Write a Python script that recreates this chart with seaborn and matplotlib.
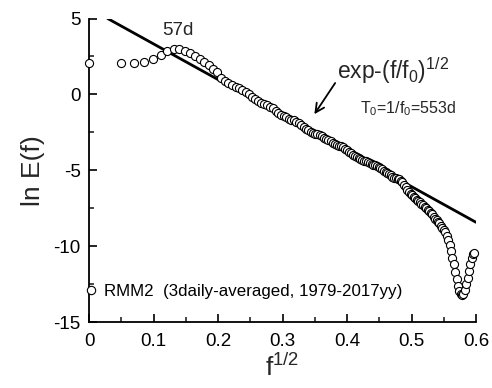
import numpy as np
import pandas as pd
import matplotlib
matplotlib.use("Agg")
import matplotlib.pyplot as plt
import seaborn as sns
from matplotlib.lines import Line2D
from matplotlib.ticker import MultipleLocator

# ---- data ----
sqrt_f = [
    0.0000, 0.0496, 0.0701, 0.0859, 0.0992, 0.1109, 0.1215, 0.1312, 0.1403, 0.1488,
    0.1568, 0.1645, 0.1718, 0.1788, 0.1856, 0.1921, 0.1984, 0.2045, 0.2104, 0.2162,
    0.2218, 0.2273, 0.2326, 0.2379, 0.2430, 0.2480, 0.2529, 0.2577, 0.2625, 0.2671,
    0.2717, 0.2762, 0.2806, 0.2849, 0.2892, 0.2934, 0.2976, 0.3017, 0.3057, 0.3097,
    0.3137, 0.3176, 0.3214, 0.3252, 0.3290, 0.3327, 0.3364, 0.3400, 0.3436, 0.3472,
    0.3507, 0.3542, 0.3577, 0.3611, 0.3645, 0.3678, 0.3712, 0.3745, 0.3777, 0.3810,
    0.3842, 0.3874, 0.3905, 0.3937, 0.3968, 0.3999, 0.4029, 0.4060, 0.4090, 0.4120,
    0.4150, 0.4179, 0.4209, 0.4238, 0.4267, 0.4295, 0.4324, 0.4352, 0.4380, 0.4408,
    0.4436, 0.4464, 0.4491, 0.4519, 0.4546, 0.4573, 0.4600, 0.4626, 0.4653, 0.4679,
    0.4705, 0.4731, 0.4757, 0.4783, 0.4809, 0.4834, 0.4860, 0.4885, 0.4910, 0.4935,
    0.4960, 0.4985, 0.5009, 0.5034, 0.5058, 0.5082, 0.5107, 0.5131, 0.5154, 0.5178,
    0.5202, 0.5226, 0.5249, 0.5272, 0.5296, 0.5319, 0.5342, 0.5365, 0.5388, 0.5411,
    0.5433, 0.5456, 0.5478, 0.5501, 0.5523, 0.5545, 0.5567, 0.5589, 0.5611, 0.5633,
    0.5655, 0.5677, 0.5698, 0.5720, 0.5741, 0.5763, 0.5784, 0.5805, 0.5826, 0.5848,
    0.5869, 0.5890, 0.5910, 0.5931, 0.5952, 0.5972,
]
ln_E = [
    2.10, 2.07, 2.07, 2.14, 2.32, 2.58, 2.85, 3.02, 3.02, 2.87,
    2.74, 2.52, 2.32, 2.14, 1.96, 1.70, 1.45, 1.05, 0.87, 0.72,
    0.60, 0.50, 0.42, 0.32, 0.18, 0.00, -0.20, -0.33, -0.45, -0.55,
    -0.62, -0.70, -0.80, -0.93, -1.08, -1.22, -1.35, -1.45, -1.52, -1.60,
    -1.66, -1.72, -1.80, -1.90, -2.02, -2.14, -2.25, -2.35, -2.45, -2.52,
    -2.58, -2.63, -2.70, -2.77, -2.85, -2.93, -3.02, -3.10, -3.18, -3.26,
    -3.33, -3.38, -3.43, -3.50, -3.58, -3.67, -3.77, -3.88, -3.98, -4.07,
    -4.14, -4.20, -4.25, -4.30, -4.36, -4.42, -4.48, -4.53, -4.58, -4.63,
    -4.68, -4.74, -4.80, -4.87, -4.95, -5.03, -5.10, -5.18, -5.26, -5.34,
    -5.42, -5.48, -5.53, -5.56, -5.60, -5.68, -5.80, -5.95, -6.10, -6.28,
    -6.45, -6.55, -6.65, -6.75, -6.85, -6.95, -7.00, -7.10, -7.20, -7.30,
    -7.40, -7.50, -7.60, -7.70, -7.80, -7.90, -8.05, -8.20, -8.30, -8.40,
    -8.50, -8.65, -8.80, -8.95, -9.10, -9.35, -9.60, -9.90, -10.35, -10.80,
    -11.20, -11.70, -12.15, -12.60, -12.95, -13.15, -13.20, -13.15, -12.90, -12.50,
    -12.10, -11.65, -11.20, -10.80, -10.55, -10.45,
]
# stretched-exponential fit: ln E = a - (f/f0)^(1/2),  T0 = 1/f0 = 553 d
T0_days = 553
fit_intercept = 5.68
fit_x = [0.029, 0.60]

x_ticks = [0, 0.1, 0.2, 0.3, 0.4, 0.5, 0.6]
y_ticks = [-15, -10, -5, 0, 5]
legend_label = "RMM2  (3daily-averaged, 1979-2017yy)"

# ---- style ----
sns.set_style("ticks")
plt.rcParams["font.family"] = ["Liberation Sans", "DejaVu Sans"]
plt.rcParams["mathtext.fontset"] = "custom"
plt.rcParams["mathtext.rm"] = "Liberation Sans"
plt.rcParams["mathtext.it"] = "Liberation Sans"
plt.rcParams["axes.unicode_minus"] = False

fig = plt.figure(figsize=(4.92, 3.88), dpi=100)
ax = fig.add_axes([0.1809, 0.1701, 0.7866, 0.7822])

df = pd.DataFrame({"x": sqrt_f, "y": ln_E})
fit_df = pd.DataFrame({"x": fit_x})
fit_df["y"] = fit_intercept - fit_df["x"] * np.sqrt(T0_days)

sns.lineplot(data=fit_df, x="x", y="y", ax=ax, color="black", linewidth=2.0, zorder=3)
sns.scatterplot(data=df, x="x", y="y", ax=ax, marker="o", s=34,
                facecolor="white", edgecolor="black", linewidth=0.8,
                zorder=4, clip_on=False)

ax.set_xlim(0, 0.6)
ax.set_ylim(-15, 5)
ax.set_xticks(x_ticks)
ax.set_xticklabels([f"{t:g}" for t in x_ticks])
ax.set_yticks(y_ticks)
ax.xaxis.set_minor_locator(MultipleLocator(0.05))
ax.yaxis.set_minor_locator(MultipleLocator(2.5))
ax.tick_params(which="major", direction="in", length=6, width=1.2,
               labelsize=13.5, pad=6, colors="black")
ax.tick_params(which="minor", direction="in", length=3.5, width=1.2)
ax.tick_params(axis="x", which="major", pad=8)
for s in ["left", "bottom"]:
    ax.spines[s].set_linewidth(1.3)
    ax.spines[s].set_color("black")
sns.despine(ax=ax)

ax.set_xlabel(r"f$^{\mathregular{1/2}}$", fontsize=19, labelpad=3)
ax.set_ylabel("ln E(f)", fontsize=19, labelpad=6)

ax.text(0.138, 4.2, "57d", fontsize=13.5, ha="center", va="center")
ax.text(0.384, 1.0, r"exp-(f/f$_\mathregular{0}$)$^{\mathregular{1/2}}$",
        fontsize=16.5, ha="left", va="baseline")
ax.text(0.42, -0.95, r"T$_\mathregular{0}$=1/f$_\mathregular{0}$=553d",
        fontsize=11.5, ha="left", va="center")
ax.annotate("", xy=(0.347, -1.46), xytext=(0.384, 0.9),
            arrowprops=dict(arrowstyle="->", color="black", lw=1.3,
                            mutation_scale=16))

handle = Line2D([], [], marker="o", linestyle="", markerfacecolor="white",
                markeredgecolor="black", markersize=6, markeredgewidth=0.8)
leg = ax.legend([handle], [legend_label], loc="center left",
                bbox_to_anchor=(-0.017, 0.1), frameon=False, fontsize=12.2,
                handlelength=1.0, handletextpad=0.3, borderaxespad=0,
                borderpad=0)
for t in leg.get_texts():
    t.set_color("black")

fig.savefig("out.png", dpi=100)
